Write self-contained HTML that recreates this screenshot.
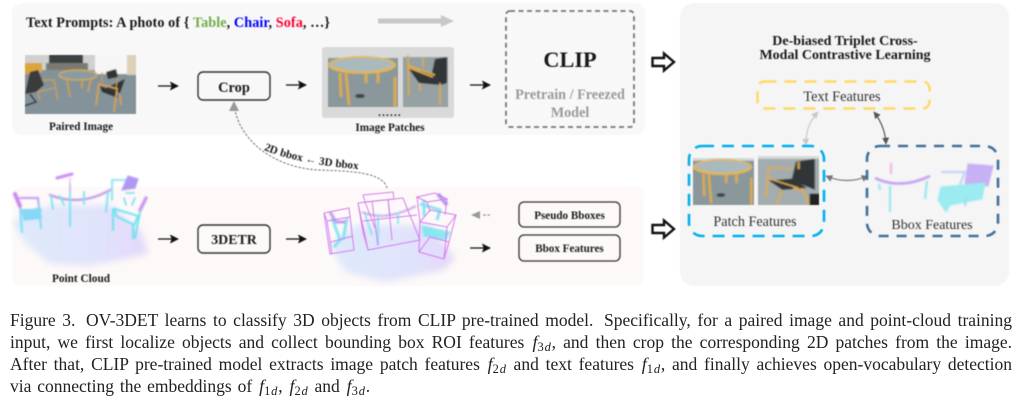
<!DOCTYPE html>
<html><head><meta charset="utf-8">
<style>
html,body{margin:0;padding:0;background:#fff;width:1024px;height:401px;overflow:hidden}
svg.main{position:absolute;left:0;top:0;filter:blur(.4px)}
svg text{font-family:"Liberation Serif",serif}
.b{font-weight:bold;fill:#1a1a1a;text-anchor:middle}
.r{fill:#333;text-anchor:middle}
.cap{position:absolute;left:10px;width:1002px;height:22px;font:17.5px/22px "Liberation Serif",serif;color:#222;text-align:justify;text-align-last:justify;white-space:nowrap;filter:blur(.3px)}
.cap.l{text-align-last:left;word-spacing:1.5px}
.cap i{font-size:18px;padding-left:1px}
.cap sub{font-size:12.5px;line-height:0;vertical-align:-3px;letter-spacing:.8px}
.cap sub em{font-style:italic}
.g{padding-left:4px}
</style></head><body>
<svg class="main" width="1024" height="401" viewBox="0 0 1024 401" xmlns="http://www.w3.org/2000/svg">
<defs>
<marker id="ah" viewBox="0 0 10 10" refX="9" refY="5" markerWidth="9" markerHeight="9" markerUnits="userSpaceOnUse" orient="auto"><path d="M0 0L10 5L0 10L2 5Z" fill="#111"/></marker>
<marker id="c1" viewBox="0 0 10 10" refX="9" refY="5" markerWidth="7" markerHeight="7" markerUnits="userSpaceOnUse" orient="auto-start-reverse"><path d="M0 0L10 5L0 10Z" fill="#c8c8c8"/></marker>
<marker id="c2" viewBox="0 0 10 10" refX="9" refY="5" markerWidth="7" markerHeight="7" markerUnits="userSpaceOnUse" orient="auto-start-reverse"><path d="M0 0L10 5L0 10Z" fill="#555"/></marker>
<marker id="c3" viewBox="0 0 10 10" refX="9" refY="5" markerWidth="7" markerHeight="7" markerUnits="userSpaceOnUse" orient="auto-start-reverse"><path d="M0 0L10 5L0 10Z" fill="#777"/></marker>
<filter id="bl06"><feGaussianBlur stdDeviation=".6"/></filter>
<filter id="bl1"><feGaussianBlur stdDeviation=".8"/></filter>
<filter id="bl5" x="-20%" y="-30%" width="140%" height="160%"><feGaussianBlur stdDeviation="3.5"/></filter>
<linearGradient id="flo" x1="0" x2="1" y1="0" y2="0"><stop offset="0" stop-color="#dfe9fb"/><stop offset=".6" stop-color="#e0e4fb"/><stop offset="1" stop-color="#e4d8fa"/></linearGradient>
<linearGradient id="chr" x1="0" x2="0" y1="0" y2="1"><stop offset="0" stop-color="#c77df0"/><stop offset=".4" stop-color="#7ccff5"/><stop offset="1" stop-color="#5fe6ee"/></linearGradient>
<path id="lbl" d="M264 150Q300 165 368 170"/>
</defs>

<!-- panels -->
<rect x="12" y="3" width="633" height="132" rx="10" fill="#f8f8f8"/>
<rect x="12" y="187" width="632" height="99" rx="8" fill="#fdf9f8"/>
<rect x="680" y="3" width="329" height="283" rx="14" fill="#f5f5f5"/>

<!-- prompts -->
<text x="26" y="27" font-size="14.2" font-weight="bold" fill="#1a1a1a" textLength="304" lengthAdjust="spacing">Text Prompts: A photo of { <tspan fill="#70ad47">Table</tspan>, <tspan fill="#0000ff">Chair</tspan>, <tspan fill="#ff0033">Sofa</tspan>, …}</text>
<path d="M378 21H442" stroke="#c8c8c8" stroke-width="5"/><path d="M441 15L454 21L441 27Z" fill="#c8c8c8"/>

<!-- paired image -->
<svg x="25" y="55" width="111" height="59" viewBox="25 55 111 59">
<g filter="url(#bl06)">
<rect x="20" y="50" width="121" height="69" fill="#84939a"/>
<rect x="20" y="50" width="121" height="20" fill="#cfd1d1"/>
<rect x="49" y="50" width="34" height="13" fill="#3b3f42"/>
<rect x="95" y="50" width="32" height="24" fill="#f6f6f6"/>
<rect x="127" y="50" width="12" height="25" fill="#dcd0b8"/>
<path d="M20 63H42V72L30 74H20Z" fill="#dca63c"/>
<path d="M46 63H88V70H46Z" fill="#7c7a70"/>
<ellipse cx="78" cy="75" rx="19" ry="5" fill="#8a9ca2" stroke="#d9a94c" stroke-width="1.4"/>
<path d="M67 80L70 97M91 79L88 92M82 81V88" stroke="#cf9f4a" stroke-width="1.8"/>
<path d="M35 82L40 100M40 80H54L58 100M54 88L38 92" stroke="#c9a050" stroke-width="1.4" fill="none"/>
<path d="M30 72L38 70L44 85L36 92L25 94Z" fill="#3a3a3a"/>
<path d="M30 94L36 102L24 106" stroke="#333" stroke-width="1.5" fill="none"/>
<path d="M125 79L120 93L106 88Z" fill="#2e3032"/><path d="M100 86L117 92L118 98L102 92Z" fill="#333"/>
<path d="M99 83L96 105M99 84L118 89M117 89L114 112M120 95L121 105" stroke="#d4a34c" stroke-width="1.8" fill="none"/>
<path d="M106 72L116 69L118 77L108 79Z" fill="#333"/><path d="M102 72V85M118 77L116 88" stroke="#c49a4c" stroke-width="1.2"/>
</g>
</svg>
<text x="81" y="130" class="b" font-size="11.2">Paired Image</text>

<!-- Crop -->
<rect x="198" y="72" width="72" height="28" rx="5" fill="none" stroke="#333" stroke-width="1.4"/>
<text x="234" y="92" class="b" font-size="14.4">Crop</text>
<path d="M158 86H178" stroke="#111" stroke-width="1.3" marker-end="url(#ah)"/>
<path d="M286 85H306" stroke="#111" stroke-width="1.3" marker-end="url(#ah)"/>

<!-- patches -->
<rect x="322" y="47" width="132" height="71" rx="3" fill="#d9d9d9"/>
<svg x="328" y="55" width="70" height="52" viewBox="0 0 70 52" preserveAspectRatio="none">
<g filter="url(#bl06)">
<rect x="-3" y="-3" width="76" height="58" fill="#8a989b"/><rect x="-3" y="-3" width="76" height="6" fill="#d6dad9"/>
<path d="M12 18L13 42M18 18L21 50M67 22V52M38 18V28M50 18V28" stroke="#dcaa4c" stroke-width="3"/>
<ellipse cx="34" cy="10" rx="33" ry="8" fill="#a9b9bc" stroke="#e4b552" stroke-width="1.8"/>
<path d="M1 11Q34 24 67 11" fill="none" stroke="#e4b552" stroke-width="1.8"/>
<ellipse cx="32" cy="41" rx="5" ry="2" fill="#3b4244"/>
</g>
</svg>
<svg x="403" y="55" width="45" height="52" viewBox="0 0 45 52" preserveAspectRatio="none">
<g filter="url(#bl06)">
<rect x="-3" y="-3" width="51" height="58" fill="#95a1a3"/><rect x="-3" y="-3" width="51" height="5" fill="#d9dbd9"/>
<path d="M44 2L32 4L29 18L38 30L44 28Z" fill="#333638"/><path d="M6 14L29 18L38 30L16 28Z" fill="#333638"/>
<path d="M5 0L6 40M20 3V12M4 10L32 20M4 12L30 22M37 28V50M17 28V36" stroke="#dcaa4c" stroke-width="1.8" fill="none"/>
</g>
</svg>
<text x="390" y="116" text-anchor="middle" font-size="11" font-weight="bold" letter-spacing="1.2" fill="#222">......</text>
<text x="390" y="131" class="b" font-size="11.2">Image Patches</text>
<path d="M470 85H490" stroke="#111" stroke-width="1.3" marker-end="url(#ah)"/>

<!-- CLIP -->
<rect x="506" y="11" width="128" height="116" rx="4" fill="none" stroke="#777" stroke-width="1.8" stroke-dasharray="5 3.5"/>
<text x="570" y="67" class="b" font-size="22.3" fill="#111">CLIP</text>
<text x="570" y="99" text-anchor="middle" font-size="14.2" font-weight="bold" fill="#9a9a9a">Pretrain / Freezed</text>
<text x="570" y="117" text-anchor="middle" font-size="14.2" font-weight="bold" fill="#9a9a9a">Model</text>

<!-- hollow arrows -->
<path d="M652.5 58H664V53.5L674 62L664 70.5V66H652.5Z" fill="#fff" stroke="#111" stroke-width="2.4"/>
<path d="M652.5 225H664V220.5L674 229L664 237.5V233H652.5Z" fill="#fff" stroke="#111" stroke-width="2.4"/>

<!-- dashed connector -->
<path d="M387 188C383 172 350 171 318 170C272 167 241 140 235 110" fill="none" stroke="#666" stroke-width=".9" stroke-dasharray="2.5 1.5"/>
<path d="M234 101L239 111L229 111Z" fill="#999"/>
<text font-size="11.2" font-weight="bold" fill="#1a1a1a"><textPath href="#lbl">2D bbox ← 3D bbox</textPath></text>

<!-- point cloud -->
<path d="M12 222L50 205L110 205L142 232L148 254L90 266L50 264L24 242Z" fill="url(#flo)" filter="url(#bl5)"/>
<g fill="none" stroke-linecap="round" filter="url(#bl1)" opacity=".9">
<path d="M57 178L72 174" stroke="#c77df0" stroke-width="3"/>
<path d="M50 195Q80 207 110 190" stroke="#bb90ea" stroke-width="2.4"/>
<path d="M51 196L53 209M70 184V226M60 196L64 205M84 192V204M108 192L106 212" stroke="#66dff0" stroke-width="1.8"/>
<path d="M70 178V192" stroke="#ee88dd" stroke-width="1"/>
<path d="M15 195L20 208L22 232M20 198H38L41 228M22 210H41" stroke="url(#chr)" stroke-width="2"/>
<path d="M15 194L20 206" stroke="#c77df0" stroke-width="4"/>
<path d="M22 212L40 208L41 218L24 220Z" fill="#7cd6f5" stroke="#7cd6f5" stroke-width="1.5"/>
<path d="M112 180H130M112 180V200M126 193H134M124 198L126 205M135 198L132 205" stroke="#66d8f0" stroke-width="1.6"/>
<path d="M128 176L138 179L135 188L122 190Z" fill="#a88cf0" stroke="#a88cf0"/>
<path d="M146 200L140 212L135 238M115 209L138 216L134 225L116 216ZM113 209V230M133 225V238" stroke="#60e0ee" stroke-width="2" fill="none"/>
<path d="M146 198L140 210" stroke="#c890ee" stroke-width="3.5"/>
</g>
<text x="81" y="282" class="b" font-size="11.3">Point Cloud</text>

<!-- 3DETR -->
<rect x="198" y="225" width="72" height="28" rx="5" fill="none" stroke="#333" stroke-width="1.4"/>
<text x="234" y="244" class="b" font-size="13.9">3DETR</text>
<path d="M158 239H178" stroke="#111" stroke-width="1.3" marker-end="url(#ah)"/>
<path d="M286 239H306" stroke="#111" stroke-width="1.3" marker-end="url(#ah)"/>

<!-- boxed cloud -->
<path d="M330 245L355 225L430 225L455 258L444 270L385 282L345 272Z" fill="url(#flo)" filter="url(#bl5)"/>
<g filter="url(#bl1)" fill="none" opacity=".85">
<path d="M332 218L340 240L334 247M347 218L343 240" stroke="#6fe0f2" stroke-width="3"/>
<path d="M330 212L336 222L346 222" stroke="#b58cf0" stroke-width="3"/>
<path d="M362 212Q385 222 416 206" stroke="#b59aea" stroke-width="2"/>
<path d="M365 214L372 235M378 214V244M398 212V224" stroke="#7ae0ef" stroke-width="2"/>
<path d="M420 204L440 210L437 220M424 200V216" stroke="#6fdff0" stroke-width="3"/>
<path d="M422 226L450 232L446 240L424 236Z" fill="#7ae6f0" stroke="#7ae6f0"/>
<path d="M438 194L447 205" stroke="#a98cea" stroke-width="4"/>
</g>
<g fill="none" stroke="#d67cf0" stroke-width="1">
<path d="M324 213L349 208L354 250L330 254ZM327 221L350 217M324 213L327 221M327 221L332 254M331 242L353 236"/>
<path d="M363 195L393 192L394 199L365 202ZM365 202L375 228M388 199L390 215"/>
<path d="M358 203L403 198L420 240L368 250ZM358 203L363 232L368 250M363 221L417 215M372 201L378 246M388 199L392 240"/>
<path d="M417 197L435 193L447 199L427 202ZM417 197L420 222M427 202L430 212M447 199L445 215"/>
<path d="M420 222L430 210L456 215L447 227ZM420 222L419 252L444 259L447 227M456 215L449 242L444 259M419 252L430 237L449 242"/>
</g>
<path d="M483 215H490" stroke="#999" stroke-width="1.3" stroke-dasharray="3 1.5"/>
<path d="M480 215H476" stroke="#999" stroke-width="1.3"/>
<path d="M471 215L480 211V219Z" fill="#999"/>
<path d="M470 248H490" stroke="#111" stroke-width="1.3" marker-end="url(#ah)"/>

<rect x="519" y="202" width="101" height="25" rx="5" fill="none" stroke="#333" stroke-width="1.3"/>
<text x="569.5" y="219" class="b" font-size="11.1">Pseudo Bboxes</text>
<rect x="519" y="235" width="101" height="26" rx="5" fill="none" stroke="#333" stroke-width="1.3"/>
<text x="569.5" y="252" class="b" font-size="11.1">Bbox Features</text>

<!-- right panel -->
<text x="845" y="45" class="b" font-size="14">De-biased Triplet Cross-</text>
<text x="845" y="59" class="b" font-size="14">Modal Contrastive Learning</text>
<rect x="757.5" y="81.5" width="172" height="27" rx="7" fill="none" stroke="#ffd966" stroke-width="2.4" stroke-dasharray="12 8"/>
<text x="842" y="101" class="r" font-size="14.3">Text Features</text>
<path d="M818 112Q805 126 806 145" fill="none" stroke="#c8c8c8" stroke-width="1.2" marker-start="url(#c1)" marker-end="url(#c1)"/>
<path d="M874 112Q885 126 886 144" fill="none" stroke="#555" stroke-width="1.2" marker-start="url(#c2)" marker-end="url(#c2)"/>
<path d="M826 176Q847 185 868 176" fill="none" stroke="#777" stroke-width="1.2" marker-start="url(#c3)" marker-end="url(#c3)"/>

<rect x="689" y="146" width="135" height="90" rx="13" fill="none" stroke="#00b0f0" stroke-width="2.6" stroke-dasharray="12 8"/>
<svg x="693" y="158" width="61" height="47" viewBox="0 0 70 52" preserveAspectRatio="none">
<g filter="url(#bl06)">
<rect x="-3" y="-3" width="76" height="58" fill="#8a989b"/><rect x="-3" y="-3" width="76" height="6" fill="#d6dad9"/>
<path d="M12 18L13 42M18 18L21 50M67 22V52M38 18V28M50 18V28" stroke="#dcaa4c" stroke-width="3"/>
<ellipse cx="34" cy="10" rx="33" ry="8" fill="#a9b9bc" stroke="#e4b552" stroke-width="1.8"/>
<path d="M1 11Q34 24 67 11" fill="none" stroke="#e4b552" stroke-width="1.8"/>
<ellipse cx="32" cy="41" rx="5" ry="2" fill="#3b4244"/>
</g>
</svg>
<svg x="758" y="156" width="61" height="49" viewBox="0 0 45 52" preserveAspectRatio="none">
<g filter="url(#bl06)">
<rect x="-3" y="-3" width="51" height="58" fill="#a3adaf"/><rect x="-3" y="-3" width="51" height="6" fill="#d9dbd9"/>
<path d="M42 3L28 6L25 24L32 30L42 36Z" fill="#333638"/><path d="M8 26L26 24L36 34L18 36Z" fill="#333638"/>
<path d="M8 12L6 44M8 12L26 14M30 6V14M8 24L30 34M32 34L38 52M34 38L26 34M18 36L14 52" stroke="#dcaa4c" stroke-width="1.6" fill="none"/>
<rect x="38" y="40" width="8" height="14" fill="#222"/>
</g>
</svg>
<text x="755" y="226" class="r" font-size="14.2">Patch Features</text>

<rect x="867" y="146" width="131" height="90" rx="13" fill="none" stroke="#41719c" stroke-width="2.6" stroke-dasharray="10 8"/>
<g filter="url(#bl1)" fill="none" opacity=".85">
<path d="M875 178Q900 190 930 176" stroke="#b58cf0" stroke-width="2.4"/>
<path d="M891 163V174" stroke="#f08ae0" stroke-width="1.6"/>
<path d="M890 186V212M879 184L880 190M927 181L925 199" stroke="#7ce0f0" stroke-width="2"/>
<path d="M941 172H965L958 190" stroke="#b5ccf8" stroke-width="2"/>
<path d="M968 164L993 166L988 186L965 184Z" fill="#c0a4f4" stroke="#c0a4f4"/>
<path d="M941 187L985 183L982 199L950 205L946 212L938 200Z" fill="#8ceaf0" stroke="#8ceaf0"/>
<path d="M966 198L965 206" stroke="#7ce0f0" stroke-width="2"/>
</g>
<text x="932" y="229" class="r" font-size="14">Bbox Features</text>
</svg>

<div class="cap" style="top:309px">Figure 3.<span class="g"> </span>OV-3DET learns to classify 3D objects from CLIP pre-trained model.<span class="g"> </span>Specifically, for a paired image and point-cloud training</div>
<div class="cap" style="top:331px">input, we first localize objects and collect bounding box ROI features <i>f</i><sub>3<em>d</em></sub>, and then crop the corresponding 2D patches from the image.</div>
<div class="cap" style="top:353px">After that, CLIP pre-trained model extracts image patch features <i>f</i><sub>2<em>d</em></sub> and text features <i>f</i><sub>1<em>d</em></sub>, and finally achieves open-vocabulary detection</div>
<div class="cap l" style="top:375px">via connecting the embeddings of <i>f</i><sub>1<em>d</em></sub>, <i>f</i><sub>2<em>d</em></sub> and <i>f</i><sub>3<em>d</em></sub>.</div>
</body></html>
